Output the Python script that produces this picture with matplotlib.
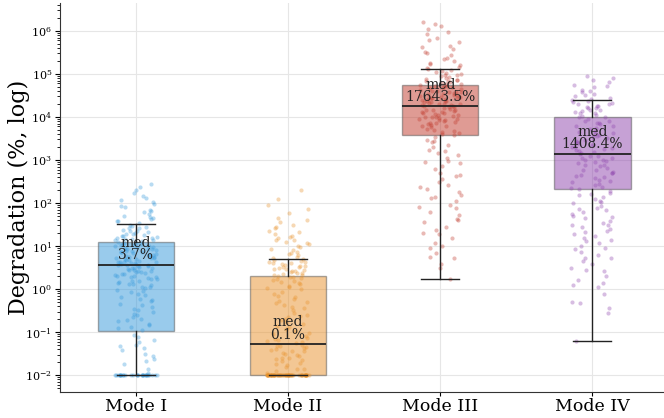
import matplotlib
matplotlib.use("Agg")
import matplotlib.pyplot as plt
from matplotlib.ticker import NullFormatter
import numpy as np

modes = ["Mode I", "Mode II", "Mode III", "Mode IV"]
colors = ["#3498db", "#e8912a", "#c0392b", "#8e44ad"]

# box statistics (%)
medians = [3.7, 0.053, 17643.5, 1408.4]
q1 = [0.105, 0.01, 3800, 210]
q3 = [12.4, 2.0, 55000, 10000]
whis_lo = [0.01, 0.01, 1.7, 0.062]
whis_hi = [32, 5.0, 130000, 25000]
decades = [-2, -1, 0, 1, 2, 3, 4, 5, 6]

# individual samples, log10(%) estimated from the scatter
pts_I = [-2.0] * 28 + [
    -1.86, -1.74, -1.63, -1.55, -1.41, -1.37, -1.29, -1.22, -1.19, -1.11, -1.07,
    -0.96, -0.91, -0.83, -0.81, -0.74, -0.69, -0.64, -0.61, -0.53, -0.49, -0.47,
    -0.38, -0.35, -0.27, -0.26, -0.19, -0.13, -0.11, -0.05, -0.02,
    0.03, 0.04, 0.09, 0.11, 0.14, 0.16, 0.19, 0.23, 0.24, 0.27, 0.29, 0.31, 0.33,
    0.36, 0.37, 0.39, 0.41, 0.43, 0.45, 0.47, 0.48, 0.5, 0.52, 0.53, 0.55, 0.56,
    0.57, 0.59, 0.6, 0.62, 0.63, 0.64, 0.66, 0.67, 0.69, 0.7, 0.72, 0.73, 0.75,
    0.77, 0.78, 0.8, 0.82, 0.83, 0.85, 0.87, 0.88, 0.9, 0.92, 0.94, 0.96, 0.98,
    1.0, 1.01, 1.03, 1.05, 1.07, 1.08, 1.1, 1.13, 1.15, 1.17, 1.18, 1.21, 1.23,
    1.25, 1.27, 1.3, 1.33, 1.35, 1.38, 1.41, 1.44, 1.47, 1.49,
    1.53, 1.57, 1.62, 1.66, 1.7, 1.74, 1.79, 1.84, 1.9, 1.97, 2.03, 2.08,
    2.16, 2.23, 2.31, 2.44,
    0.31, 0.44, 0.58, 0.71, 0.86, 1.04, 1.19, 0.49, 0.62, 0.93, 1.11, 1.28,
    0.35, 0.68, 0.79, 0.97, 1.36, 0.54, 0.74, 1.02, 1.16, 0.4, 0.88, 1.24,
    0.61, 0.05, 0.18, -0.22, -0.41, -0.58, -0.72, -0.88, 0.26, 0.12, -0.07,
    1.43, 1.58, 1.68, 1.82, 1.93, 2.12, 2.37, -1.5, -1.33, -1.95, -1.67,
]
pts_II = [-2.0] * 60 + [
    -1.94, -1.9, -1.86, -1.81, -1.77, -1.72, -1.68, -1.63, -1.6, -1.56, -1.52,
    -1.49, -1.45, -1.42, -1.38, -1.35, -1.32, -1.29, -1.26, -1.22, -1.18, -1.13,
    -1.09, -1.04, -0.98, -0.93, -0.88, -0.82, -0.77, -0.71, -0.66, -0.6, -0.55,
    -0.49, -0.44, -0.38, -0.33, -0.27, -0.22, -0.16, -0.11, -0.06, -0.01, 0.04,
    0.08, 0.12, 0.16, 0.2, 0.23, 0.27, 0.3, 0.32, 0.35, 0.37, 0.4, 0.42, 0.44,
    0.47, 0.49, 0.51, 0.54, 0.56, 0.59, 0.61, 0.64, 0.66, 0.69,
    0.73, 0.78, 0.83, 0.87, 0.92, 0.97, 1.01, 1.06, 1.1, 1.15, 1.19, 1.24, 1.29,
    1.35, 1.41, 1.48, 1.56, 1.66, 1.77, 1.95, 2.3,
    -1.87, -1.75, -1.64, -1.53, -1.44, -1.33, -1.21, -1.02, -0.86, -0.63,
    -0.41, -0.19, 0.02, 0.18, 0.28, 0.38, 0.46, 0.53, 0.63, 0.68, 0.75, 0.81,
    0.9, 1.04, 1.13, 1.22, 1.33, 1.45, 1.61, 1.85, 2.1, 0.33, 0.43, 0.52, 0.6,
    0.25, 0.14, -0.3, -0.7, -1.15, -1.4, -1.6,
]
pts_III = [
    0.23, 0.49, 0.58, 0.71, 0.83, 0.95, 1.08, 1.19, 1.27, 1.38, 1.45, 1.56,
    1.63, 1.72, 1.8, 1.88, 1.95, 2.04, 2.11, 2.18, 2.26, 2.33, 2.41, 2.49, 2.56,
    2.63, 2.7, 2.78, 2.85, 2.92, 2.98, 3.05, 3.11, 3.17, 3.23, 3.29, 3.35, 3.41,
    3.47, 3.53, 3.58, 3.61, 3.64, 3.67, 3.7, 3.73, 3.76, 3.79, 3.81, 3.84, 3.86,
    3.88, 3.91, 3.93, 3.95, 3.97, 3.99, 4.01, 4.03, 4.05, 4.07, 4.09, 4.11, 4.13,
    4.15, 4.17, 4.19, 4.21, 4.23, 4.25, 4.26, 4.28, 4.29, 4.31, 4.33, 4.34, 4.36,
    4.37, 4.39, 4.41, 4.42, 4.44, 4.45, 4.47, 4.49, 4.5, 4.52, 4.54, 4.55, 4.57,
    4.59, 4.61, 4.63, 4.65, 4.67, 4.69, 4.71, 4.73, 4.75, 4.77, 4.79, 4.81, 4.83,
    4.85, 4.87, 4.89, 4.92, 4.94, 4.97, 5.0, 5.03, 5.06, 5.09, 5.11,
    5.15, 5.2, 5.25, 5.31, 5.37, 5.44, 5.51, 5.58, 5.66, 5.74, 5.83, 5.93,
    6.05, 6.12, 6.2,
    3.62, 3.78, 3.92, 4.0, 4.08, 4.16, 4.22, 4.3, 4.38, 4.46, 4.53, 4.6, 4.68,
    4.76, 4.84, 4.9, 4.98, 5.05, 5.13, 5.22, 5.35, 5.48, 5.62, 5.79, 5.98, 6.15,
    3.45, 3.2, 2.95, 2.66, 2.38, 2.15, 1.9, 1.6, 1.3, 1.0, 0.75, 3.85, 4.12,
    4.27, 4.43, 4.58, 4.72, 3.96, 4.05, 4.35,
]
pts_IV = [
    -1.21, -0.56, -0.45, -0.33, -0.12, 0.04, 0.13, 0.2, 0.31, 0.42, 0.5, 0.58,
    0.66, 0.73, 0.8, 0.87, 0.94, 1.0, 1.06, 1.12, 1.18, 1.23, 1.29, 1.34, 1.39,
    1.44, 1.49, 1.54, 1.59, 1.64, 1.69, 1.74, 1.79, 1.84, 1.89, 1.94, 1.99, 2.04,
    2.09, 2.14, 2.19, 2.24, 2.29, 2.33, 2.37, 2.41, 2.45, 2.49, 2.53, 2.57, 2.61,
    2.65, 2.69, 2.73, 2.77, 2.81, 2.85, 2.89, 2.93, 2.97, 3.01, 3.05, 3.09, 3.13,
    3.16, 3.19, 3.23, 3.27, 3.31, 3.35, 3.39, 3.43, 3.47, 3.51, 3.55, 3.59, 3.63,
    3.67, 3.71, 3.75, 3.79, 3.83, 3.87, 3.91, 3.95, 3.99, 4.02, 4.05, 4.08, 4.11,
    4.14, 4.17, 4.2, 4.23, 4.26, 4.29, 4.32, 4.35, 4.38, 4.4,
    4.44, 4.48, 4.53, 4.58, 4.63, 4.69, 4.75, 4.82, 4.9, 4.95,
    2.35, 2.5, 2.62, 2.76, 2.88, 3.0, 3.1, 3.2, 3.3, 3.42, 3.54, 3.66, 3.78,
    3.9, 4.0, 4.1, 4.2, 4.3, 4.42, 4.5, 4.6, 4.72, 4.85, 2.2, 2.02, 1.85, 1.68,
    1.5, 1.32, 1.15, 0.95, 0.72, 0.45, 0.1, -0.3, 3.05, 3.25, 3.6, 3.85, 2.7,
    2.95, 4.15, 4.25,
]
points = [pts_I, pts_II, pts_III, pts_IV]

plt.rcParams["font.family"] = ["DejaVu Serif"]

fig = plt.figure(figsize=(6.64, 4.18), dpi=100)
ax = fig.add_axes([0.09, 0.062, 0.91, 0.931])
ax.set_yscale("log")

stats = []
for i in range(len(modes)):
    stats.append(dict(med=medians[i], q1=q1[i], q3=q3[i],
                      whislo=whis_lo[i], whishi=whis_hi[i], fliers=[]))

bp = ax.bxp(stats, positions=range(len(modes)), widths=0.5, patch_artist=True,
            showfliers=False,
            medianprops=dict(color="#222222", lw=1.3, zorder=5),
            whiskerprops=dict(color="#222222", lw=1.0, zorder=4),
            capprops=dict(color="#222222", lw=1.0, zorder=4),
            boxprops=dict(edgecolor="#555555", lw=1.0),
            capwidths=0.25)
for patch, c in zip(bp["boxes"], colors):
    patch.set_facecolor(c)
    patch.set_alpha(0.5)
    patch.set_edgecolor("#555555")
    patch.set_zorder(2)

# deterministic jitter (no lattice look)
golden = 0.6180339887
for i, vals in enumerate(points):
    k = np.arange(len(vals))
    jit = ((k * golden + k * k * 0.1371 + 0.37 * i) % 1.0 - 0.5) * 0.28
    ax.scatter(i + jit, 10 ** np.array(vals), s=9, color=colors[i],
               alpha=0.35, lw=0, zorder=3)

for i, m in enumerate(medians):
    ax.text(i, m * 1.12, "med\n%.1f%%" % m, ha="center", va="bottom",
            fontsize=10, linespacing=0.85, color="#222222", zorder=6)

ax.set_xlim(-0.5, 3.47)
ax.set_ylim(10 ** -2.395, 10 ** 6.65)
ax.set_yticks([10.0 ** e for e in decades])
ax.yaxis.set_minor_formatter(NullFormatter())
ax.set_xticks(range(len(modes)))
ax.set_xticklabels(modes, fontsize=12.5)
ax.tick_params(axis="x", length=3, pad=1)
ax.tick_params(axis="y", labelsize=8, pad=2)
ax.set_ylabel("Degradation (%, log)", fontsize=16)
ax.yaxis.set_label_coords(-0.05, 0.5)
ax.grid(True, color="#e6e6e6", lw=0.8, zorder=0)
ax.set_axisbelow(True)
for s in ["top", "right"]:
    ax.spines[s].set_visible(False)
for s in ["left", "bottom"]:
    ax.spines[s].set_color("#333333")

fig.savefig("out.png", dpi=100)
